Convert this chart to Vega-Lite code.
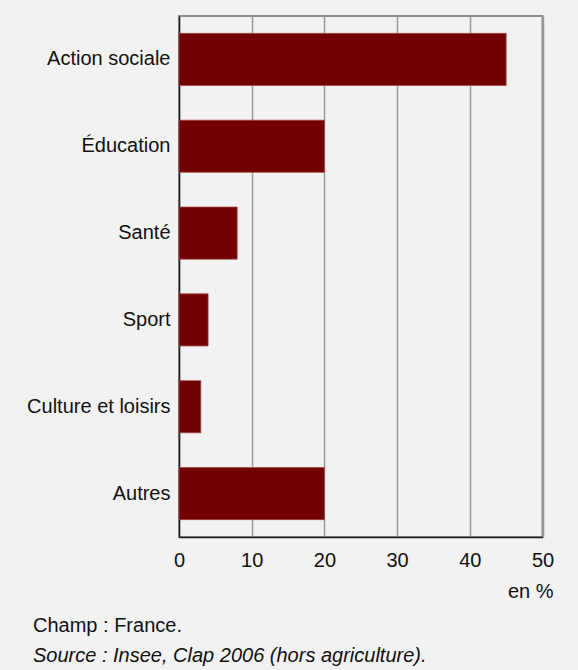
{
  "$schema": "https://vega.github.io/schema/vega-lite/v6.json",
  "width": 363.5,
  "height": 521,
  "autosize": {"type": "none"},
  "padding": {"left": 179, "top": 16, "right": 35.5, "bottom": 133},
  "background": "#f2f2f2",
  "title": {
    "text": "Champ : France.",
    "subtitle": "Source : Insee, Clap 2006 (hors agriculture).",
    "orient": "bottom",
    "anchor": "start",
    "frame": "group",
    "offset": 15,
    "dx": -146,
    "fontSize": 20,
    "fontWeight": "normal",
    "color": "#111111",
    "subtitleFontSize": 20,
    "subtitleFontStyle": "italic",
    "subtitleColor": "#111111",
    "subtitlePadding": 10
  },
  "data": {
    "values": [
      {"domaine": "Action sociale", "part": 45},
      {"domaine": "Éducation", "part": 20},
      {"domaine": "Santé", "part": 8},
      {"domaine": "Sport", "part": 4},
      {"domaine": "Culture et loisirs", "part": 3},
      {"domaine": "Autres", "part": 20}
    ]
  },
  "mark": {"type": "bar", "color": "#730000", "stroke": "#a04848", "strokeWidth": 0.8},
  "encoding": {
    "y": {
      "field": "domaine",
      "type": "nominal",
      "sort": null,
      "scale": {"paddingInner": 0.4, "paddingOuter": 0.2},
      "axis": {
        "title": null,
        "ticks": false,
        "labelPadding": 9,
        "domainColor": "#222222",
        "domainWidth": 1.5,
        "labelFontSize": 20,
        "labelColor": "#111111"
      }
    },
    "x": {
      "field": "part",
      "type": "quantitative",
      "scale": {"domain": [0, 50]},
      "axis": {
        "values": [0, 10, 20, 30, 40, 50],
        "title": "en %",
        "titleAlign": "right",
        "titleBaseline": "alphabetic",
        "titleX": 374,
        "titleY": 60,
        "titleFontSize": 20,
        "titleFontWeight": "normal",
        "titleColor": "#111111",
        "ticks": false,
        "labelPadding": 13,
        "labelFontSize": 20,
        "labelColor": "#111111",
        "labelFlush": false,
        "domainColor": "#222222",
        "domainWidth": 1.5,
        "grid": true,
        "gridColor": "#9a9a9a",
        "gridWidth": 1.5
      }
    }
  },
  "config": {
    "font": "Liberation Sans Narrow, Arial Narrow, Liberation Sans",
    "view": {"stroke": "#8c8c8c", "strokeWidth": 2}
  }
}
